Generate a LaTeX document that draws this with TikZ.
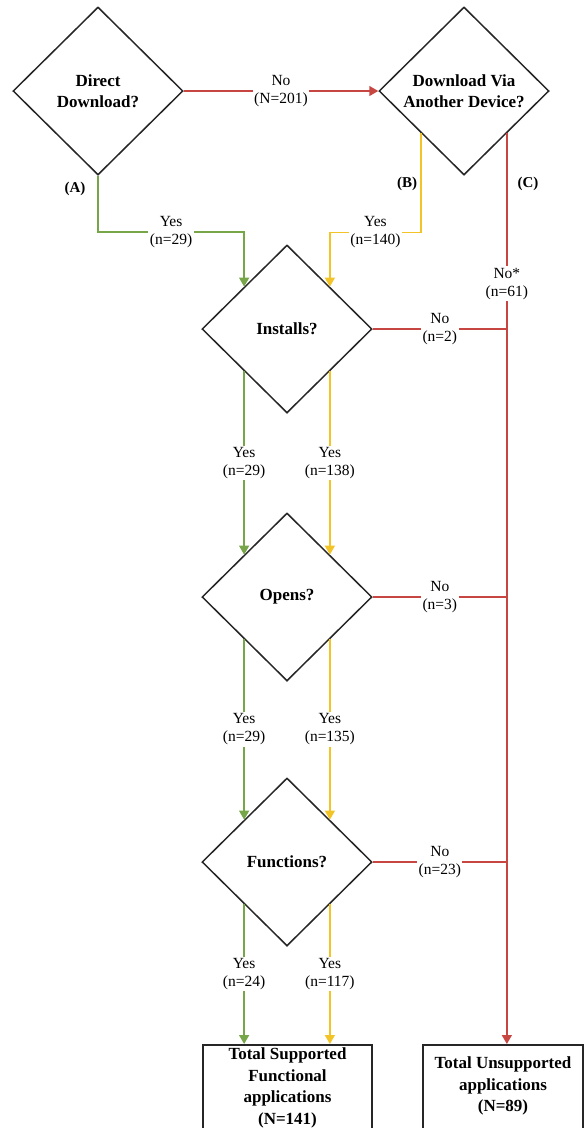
\documentclass[tikz,border=0pt]{standalone}
\usepackage{fontspec}
\setmainfont{Liberation Serif}
\usetikzlibrary{shapes.geometric,arrows.meta}
\definecolor{noRed}{RGB}{200,70,66}
\definecolor{yesGreen}{RGB}{118,166,72}
\definecolor{yesGold}{RGB}{242,196,40}

\begin{document}
\begin{tikzpicture}[x=1pt,y=-1pt,
		question/.style={diamond,draw=black!85,line width=1.5pt,minimum width=170pt,minimum height=168pt,inner sep=0pt,align=center,font=\fontsize{17}{21}\selectfont\bfseries},
		total/.style={rectangle,draw=black!85,line width=1.5pt,anchor=north,inner xsep=2pt,text depth=25pt,align=center,font=\fontsize{17}{21.5}\selectfont\bfseries},
		count/.style={fill=white,text=black,inner sep=1.5pt,align=center,font=\fontsize{15.5}{18}\selectfont},
		branch/.style={font=\fontsize{15}{18}\selectfont\bfseries},
		link/.style={line width=1.5pt,-{Triangle[length=9pt,width=10pt]}}]
			\useasboundingbox (0,0) rectangle (584,1128);
			\clip (0,0) rectangle (584,1128);
			\node[question] (direct) at (98,91) {Direct\\Download?};
			\node[question] (via) at (464,91) {Download Via\\Another Device?};
			\node[question] (installs) at (287,329) {Installs?};
			\node[question] (opens) at (287,597) {Opens?};
			\node[question] (functions) at (287,862) {Functions?};
			\node[total,minimum width=169pt,inner ysep=3pt] (supported) at (287.5,1044) {Total Supported\\Functional\\applications\\(N=141)};
			\node[total,minimum width=160pt,inner ysep=12pt] (unsupported) at (503,1044) {Total Unsupported\\applications\\(N=89)};
			\node[branch] (pathA) at (75,189) {(A)};
			\node[branch] (pathB) at (407,184) {(B)};
			\node[branch] (pathC) at (528,184) {(C)};
			\coordinate (ctop) at (via.south east);
			\coordinate (cbot) at (via.south east |- unsupported.north);
			\draw[link,noRed] (direct.east) -- node[count]{No\\(N=201)} (via.west);
			\draw[link,yesGreen] (direct.south) -- ++(0,56) -| node[count,pos=0.25]{Yes\\(n=29)} (installs.north west);
			\draw[link,yesGold] (via.south west) -- ++(0,99) -| node[count,pos=0.25]{Yes\\(n=140)} (installs.north east);
			\draw[link,noRed] (ctop) -- node[count,pos=0.165]{No*\\(n=61)} (cbot);
			\foreach \q/\n in {installs/2,opens/3,functions/23}{
				\draw[line width=1.5pt,noRed] (\q.east) -- node[count]{No\\(n=\n)} (\q.east -| cbot);
			}
			\foreach \a/\b/\g/\y in {installs/opens/29/138,opens/functions/29/135}{
				\draw[link,yesGreen] (\a.south west) -- node[count]{Yes\\(n=\g)} (\b.north west);
				\draw[link,yesGold] (\a.south east) -- node[count]{Yes\\(n=\y)} (\b.north east);
			}
			\draw[link,yesGreen] (functions.south west) -- node[count]{Yes\\(n=24)} (functions.south west |- supported.north);
			\draw[link,yesGold] (functions.south east) -- node[count]{Yes\\(n=117)} (functions.south east |- supported.north);
		\end{tikzpicture}
\end{document}
